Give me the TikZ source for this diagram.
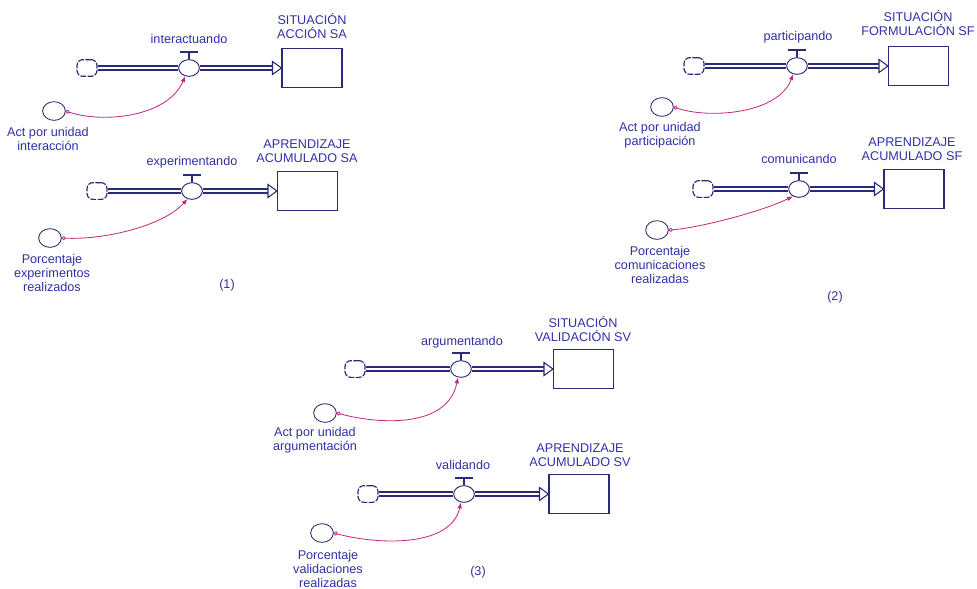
\documentclass[tikz,border=0pt]{standalone}
\usepackage{fontspec}
\setmainfont{Liberation Sans}
\usetikzlibrary{shapes.geometric,arrows.meta}

\definecolor{navy}{HTML}{2A2A78}
\definecolor{inkblue}{HTML}{3030A8}
\definecolor{link}{HTML}{C42A7C}

\tikzset{
  stock/.style={draw=navy, line width=0.9pt, minimum width=1.8cm, minimum height=1.17cm},
  valve/.style={ellipse, draw=navy, line width=0.8pt, fill=white, minimum width=0.62cm, minimum height=0.5cm, inner sep=0pt},
  cloud/.style={draw=navy, line width=1pt, rounded corners=5pt, dash pattern=on 5pt off 1.2pt, minimum width=0.6cm, minimum height=0.5cm, inner sep=0pt},
  aux/.style={ellipse, draw=navy!80!black, line width=0.7pt, minimum width=0.68cm, minimum height=0.56cm, inner sep=0pt},
  lbl/.style={text=inkblue, font=\fontsize{10.8}{12}\selectfont, align=center, inner sep=1pt},
  pipe/.style={draw=navy, line width=1pt, double=white, double distance=2.4pt},
  pipehead/.style={draw=navy, line width=0.9pt, fill=white},
  handle/.style={draw=navy, line width=0.9pt},
  handlebar/.style={draw=navy, line width=2pt},
  link/.style={draw=link, line width=0.7pt, {Circle[open,length=3.5pt,width=3.5pt]}-{Latex[length=5pt,width=4pt]}}
}

\begin{document}
\begin{tikzpicture}[x=0.03cm, y=-0.03cm]
\useasboundingbox (0,0) rectangle (977,589);

% (1) situacion accion
\node[cloud] (c1) at (87,68) {};
\node[valve] (v1) at (189,68) {};
\node[stock] (s1) at (312,68) {};
\node[aux] (a1) at (54,111) {};
\node[lbl] (f1) at (189,39) {interactuando};
\node[lbl] (t1) at (312,26.5) {SITUACIÓN\\ACCIÓN SA};
\node[lbl] (n1) at (48,139) {Act por unidad\\interacción};
\draw[pipe] (c1) -- (v1);
\draw[pipe, shorten >=8pt] (v1) -- (s1.west);
\draw[pipehead] (s1.west) -- ++(-9,-6.5) -- ++(0,13) -- cycle;
\draw[handle] (v1.north) -- ++(0,-6);
\draw[handlebar] (v1.north) ++(-9,-7) -- ++(18,0);
\draw[link] (a1.east) .. controls +(35,12) and +(-18,42) .. (v1.245);

% (1) aprendizaje acumulado
\node[cloud] (c2) at (97,191) {};
\node[valve] (v2) at (192,191) {};
\node[stock] (s2) at (307.5,191) {};
\node[aux] (a2) at (50,238) {};
\node[lbl] (f2) at (192,162) {experimentando};
\node[lbl] (t2) at (307,151.5) {APRENDIZAJE\\ACUMULADO SA};
\node[lbl] (n2) at (52,273) {Porcentaje\\experimentos\\realizados};
\draw[pipe] (c2) -- (v2);
\draw[pipe, shorten >=8pt] (v2) -- (s2.west);
\draw[pipehead] (s2.west) -- ++(-9,-6.5) -- ++(0,13) -- cycle;
\draw[handle] (v2.north) -- ++(0,-6);
\draw[handlebar] (v2.north) ++(-9,-7) -- ++(18,0);
\draw[link] (a2.east) .. controls +(40,2) and +(-25,28) .. (v2.240);
\node[lbl] (p1) at (227,285) {(1)};

% (2) situacion formulacion
\node[cloud] (c3) at (694,66) {};
\node[valve] (v3) at (797,66) {};
\node[stock] (s3) at (918.5,66) {};
\node[aux] (a3) at (662,107) {};
\node[lbl] (f3) at (798,37) {participando};
\node[lbl] (t3) at (918,23.5) {SITUACIÓN\\FORMULACIÓN SF};
\node[lbl] (n3) at (660,135) {Act por unidad\\participación};
\draw[pipe] (c3) -- (v3);
\draw[pipe, shorten >=8pt] (v3) -- (s3.west);
\draw[pipehead] (s3.west) -- ++(-9,-6.5) -- ++(0,13) -- cycle;
\draw[handle] (v3.north) -- ++(0,-6);
\draw[handlebar] (v3.north) ++(-9,-7) -- ++(18,0);
\draw[link] (a3.east) .. controls +(35,12) and +(-15,40) .. (v3.245);

% (2) aprendizaje acumulado
\node[cloud] (c4) at (703,189) {};
\node[valve] (v4) at (799,189) {};
\node[stock] (s4) at (914,189) {};
\node[aux] (a4) at (657,230) {};
\node[lbl] (f4) at (799,159) {comunicando};
\node[lbl] (t4) at (912,149.5) {APRENDIZAJE\\ACUMULADO SF};
\node[lbl] (n4) at (660,265) {Porcentaje\\comunicaciones\\realizadas};
\draw[pipe] (c4) -- (v4);
\draw[pipe, shorten >=8pt] (v4) -- (s4.west);
\draw[pipehead] (s4.west) -- ++(-9,-6.5) -- ++(0,13) -- cycle;
\draw[handle] (v4.north) -- ++(0,-6);
\draw[handlebar] (v4.north) ++(-9,-7) -- ++(18,0);
\draw[link] (a4.east) .. controls +(30,-2) and +(-30,15) .. (v4.230);
\node[lbl] (p2) at (835,297) {(2)};

% (3) situacion validacion
\node[cloud] (c5) at (355,369) {};
\node[valve] (v5) at (461,369) {};
\node[stock] (s5) at (583.5,369) {};
\node[aux] (a5) at (325,413) {};
\node[lbl] (f5) at (462,342) {argumentando};
\node[lbl] (t5) at (583,329) {SITUACIÓN\\VALIDACIÓN SV};
\node[lbl] (n5) at (315,440) {Act por unidad\\argumentación};
\draw[pipe] (c5) -- (v5);
\draw[pipe, shorten >=8pt] (v5) -- (s5.west);
\draw[pipehead] (s5.west) -- ++(-9,-6.5) -- ++(0,13) -- cycle;
\draw[handle] (v5.north) -- ++(0,-6);
\draw[handlebar] (v5.north) ++(-9,-7) -- ++(18,0);
\draw[link] (a5.east) .. controls +(45,12) and +(-10,50) .. (v5.250);

% (3) aprendizaje acumulado
\node[cloud] (c6) at (368,494) {};
\node[valve] (v6) at (464,494) {};
\node[stock] (s6) at (579,494) {};
\node[aux] (a6) at (322,533) {};
\node[lbl] (f6) at (463,465) {validando};
\node[lbl] (t6) at (580,455) {APRENDIZAJE\\ACUMULADO SV};
\node[lbl] (n6) at (328,569) {Porcentaje\\validaciones\\realizadas};
\draw[pipe] (c6) -- (v6);
\draw[pipe, shorten >=8pt] (v6) -- (s6.west);
\draw[pipehead] (s6.west) -- ++(-9,-6.5) -- ++(0,13) -- cycle;
\draw[handle] (v6.north) -- ++(0,-6);
\draw[handlebar] (v6.north) ++(-9,-7) -- ++(18,0);
\draw[link] (a6.east) .. controls +(45,12) and +(-10,45) .. (v6.250);
\node[lbl] (p3) at (478,572) {(3)};
\end{tikzpicture}
\end{document}
